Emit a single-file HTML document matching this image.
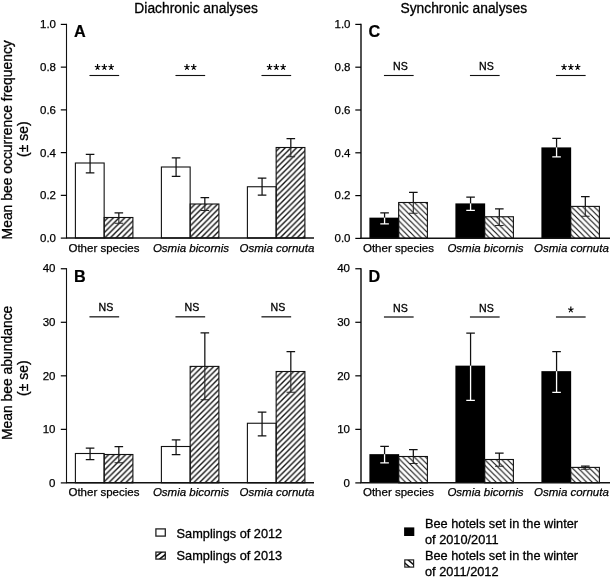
<!DOCTYPE html>
<html><head><meta charset="utf-8"><title>Figure</title>
<style>
html,body{margin:0;padding:0;background:#fff;}
body{width:610px;height:580px;overflow:hidden;font-family:"Liberation Sans",sans-serif;}
svg{display:block;will-change:transform;font-family:"Liberation Sans",sans-serif;fill:#000;}
text{stroke:#000;stroke-width:0.3px;}
.t{font-size:11.5px;stroke-width:0.25px;}
.h{font-size:13.8px;}
.y{font-size:13.9px;}
.L{font-size:16.2px;font-weight:bold;stroke-width:0.2px;}
.ns{font-size:10.6px;}
.st{font-size:16.5px;}
.lg{font-size:12.75px;}
</style></head><body>
<svg width="610" height="580" viewBox="0 0 610 580">
<defs>
<pattern id="hf" width="5.66" height="5.66" patternUnits="userSpaceOnUse" patternTransform="translate(2.9 0)">
<path d="M-1.42 1.42L1.42 -1.42M0 5.66L5.66 0M4.24 7.08L7.08 4.24" stroke="#111" stroke-width="1.35" fill="none"/>
</pattern>
<pattern id="hb" width="5.66" height="5.66" patternUnits="userSpaceOnUse" patternTransform="translate(2.5 0)">
<path d="M-1.42 4.24L1.42 7.08M0 0L5.66 5.66M4.24 -1.42L7.08 1.42" stroke="#111" stroke-width="1.15" fill="none"/>
</pattern>
</defs>
<rect width="610" height="580" fill="#fff"/>
<text x="196.1" y="12.8" text-anchor="middle" class="h">Diachronic analyses</text>
<text x="463.8" y="12.8" text-anchor="middle" class="h">Synchronic analyses</text>
<text transform="translate(12.1 139.8) rotate(-90)" text-anchor="middle" class="y">Mean bee occurrence frequency</text>
<text transform="translate(28 139.2) rotate(-90)" text-anchor="middle" class="y">(± se)</text>
<text transform="translate(12.1 372.9) rotate(-90)" text-anchor="middle" class="y">Mean bee abundance</text>
<text transform="translate(28 378.2) rotate(-90)" text-anchor="middle" class="y">(± se)</text>
<rect x="75.4" y="163" width="28.75" height="75" fill="#fff" stroke="#111" stroke-width="1.1"/>
<path d="M90.08 154.3V172.8M85.78 154.3H94.38M85.78 172.8H94.38" stroke="#111" stroke-width="1.25" fill="none"/>
<rect x="104.15" y="217.5" width="28.75" height="20.5" fill="url(#hf)" stroke="#111" stroke-width="1.1"/>
<path d="M118.83 212.8V217.5M114.53 212.8H123.12" stroke="#111" stroke-width="1.25" fill="none"/>
<path d="M118.83 217.5V223.3M114.53 223.3H123.12" stroke="#262626" stroke-width="1.1" fill="none"/>
<rect x="161.4" y="167" width="28.75" height="71" fill="#fff" stroke="#111" stroke-width="1.1"/>
<path d="M176.08 157.8V176.3M171.78 157.8H180.38M171.78 176.3H180.38" stroke="#111" stroke-width="1.25" fill="none"/>
<rect x="190.15" y="204" width="28.75" height="34" fill="url(#hf)" stroke="#111" stroke-width="1.1"/>
<path d="M204.83 197.55V204M200.53 197.55H209.13" stroke="#111" stroke-width="1.25" fill="none"/>
<path d="M204.83 204V210.55M200.53 210.55H209.13" stroke="#262626" stroke-width="1.1" fill="none"/>
<rect x="247.4" y="186.75" width="28.75" height="51.25" fill="#fff" stroke="#111" stroke-width="1.1"/>
<path d="M262.07 178V195M257.77 178H266.38M257.77 195H266.38" stroke="#111" stroke-width="1.25" fill="none"/>
<rect x="276.15" y="147.5" width="28.75" height="90.5" fill="url(#hf)" stroke="#111" stroke-width="1.1"/>
<path d="M290.82 138.5V147.5M286.52 138.5H295.12" stroke="#111" stroke-width="1.25" fill="none"/>
<path d="M290.82 147.5V156.7M286.52 156.7H295.12" stroke="#262626" stroke-width="1.1" fill="none"/>
<path d="M66.5 23.8V238" stroke="#111" stroke-width="1.1" fill="none"/>
<path d="M66 238H314" stroke="#111" stroke-width="1.5" fill="none"/>
<path d="M60.8 238.1H66.5" stroke="#000" stroke-width="1.2" fill="none"/>
<text x="56" y="242" text-anchor="end" class="t">0.0</text>
<path d="M60.8 195.36H66.5" stroke="#000" stroke-width="1.2" fill="none"/>
<text x="56" y="199.26" text-anchor="end" class="t">0.2</text>
<path d="M60.8 152.62H66.5" stroke="#000" stroke-width="1.2" fill="none"/>
<text x="56" y="156.52" text-anchor="end" class="t">0.4</text>
<path d="M60.8 109.88H66.5" stroke="#000" stroke-width="1.2" fill="none"/>
<text x="56" y="113.78" text-anchor="end" class="t">0.6</text>
<path d="M60.8 67.14H66.5" stroke="#000" stroke-width="1.2" fill="none"/>
<text x="56" y="71.04" text-anchor="end" class="t">0.8</text>
<path d="M60.8 24.4H66.5" stroke="#000" stroke-width="1.2" fill="none"/>
<text x="56" y="28.3" text-anchor="end" class="t">1.0</text>
<text x="73.95" y="36.9" class="L">A</text>
<text x="103.95" y="251.8" text-anchor="middle" class="t">Other species</text>
<text x="190.95" y="251.8" text-anchor="middle" class="t"><tspan font-style="italic">Osmia bicornis</tspan></text>
<text x="276.95" y="251.8" text-anchor="middle" class="t"><tspan font-style="italic">Osmia cornuta</tspan></text>
<path d="M89.45 75.5H119.15" stroke="#111" stroke-width="1.1" fill="none"/>
<path d="M97.55 67.25L97.55 64.11M97.55 67.25L100.26 66.28M97.55 67.25L99.23 69.79M97.55 67.25L95.87 69.79M97.55 67.25L94.84 66.28" stroke="#000" stroke-width="1.15" fill="none"/>
<path d="M104.35 67.25L104.35 64.11M104.35 67.25L107.06 66.28M104.35 67.25L106.03 69.79M104.35 67.25L102.67 69.79M104.35 67.25L101.64 66.28" stroke="#000" stroke-width="1.15" fill="none"/>
<path d="M111.15 67.25L111.15 64.11M111.15 67.25L113.86 66.28M111.15 67.25L112.83 69.79M111.15 67.25L109.47 69.79M111.15 67.25L108.44 66.28" stroke="#000" stroke-width="1.15" fill="none"/>
<path d="M175.45 75.5H205.15" stroke="#111" stroke-width="1.1" fill="none"/>
<path d="M186.95 67.25L186.95 64.11M186.95 67.25L189.66 66.28M186.95 67.25L188.63 69.79M186.95 67.25L185.27 69.79M186.95 67.25L184.24 66.28" stroke="#000" stroke-width="1.15" fill="none"/>
<path d="M193.75 67.25L193.75 64.11M193.75 67.25L196.46 66.28M193.75 67.25L195.43 69.79M193.75 67.25L192.07 69.79M193.75 67.25L191.04 66.28" stroke="#000" stroke-width="1.15" fill="none"/>
<path d="M261.45 75.5H291.15" stroke="#111" stroke-width="1.1" fill="none"/>
<path d="M269.55 67.25L269.55 64.11M269.55 67.25L272.26 66.28M269.55 67.25L271.23 69.79M269.55 67.25L267.87 69.79M269.55 67.25L266.84 66.28" stroke="#000" stroke-width="1.15" fill="none"/>
<path d="M276.35 67.25L276.35 64.11M276.35 67.25L279.06 66.28M276.35 67.25L278.03 69.79M276.35 67.25L274.67 69.79M276.35 67.25L273.64 66.28" stroke="#000" stroke-width="1.15" fill="none"/>
<path d="M283.15 67.25L283.15 64.11M283.15 67.25L285.86 66.28M283.15 67.25L284.83 69.79M283.15 67.25L281.47 69.79M283.15 67.25L280.44 66.28" stroke="#000" stroke-width="1.15" fill="none"/>
<rect x="369.4" y="217.65" width="29.75" height="20.65" fill="#000"/>
<path d="M384.57 212.8V217.75M380.27 212.8H388.88" stroke="#111" stroke-width="1.25" fill="none"/>
<path d="M384.57 217.75V223.8M380.27 223.8H388.88" stroke="#fff" stroke-width="1.3" fill="none"/>
<rect x="398.65" y="202.5" width="28.75" height="35.8" fill="url(#hb)" stroke="#111" stroke-width="1.1"/>
<path d="M413.32 192.3V202.5M409.02 192.3H417.62" stroke="#111" stroke-width="1.25" fill="none"/>
<path d="M413.32 202.5V213.3M409.02 213.3H417.62" stroke="#262626" stroke-width="1.1" fill="none"/>
<rect x="455.4" y="203.4" width="29.75" height="34.9" fill="#000"/>
<path d="M470.57 197.15V203.5M466.27 197.15H474.88" stroke="#111" stroke-width="1.25" fill="none"/>
<path d="M470.57 203.5V210.4M466.27 210.4H474.88" stroke="#fff" stroke-width="1.3" fill="none"/>
<rect x="484.65" y="216.75" width="28.75" height="21.55" fill="url(#hb)" stroke="#111" stroke-width="1.1"/>
<path d="M499.32 208.8V216.75M495.02 208.8H503.62" stroke="#111" stroke-width="1.25" fill="none"/>
<path d="M499.32 216.75V225.55M495.02 225.55H503.62" stroke="#262626" stroke-width="1.1" fill="none"/>
<rect x="541.4" y="147.4" width="29.75" height="90.9" fill="#000"/>
<path d="M556.57 138.3V147.5M552.27 138.3H560.87" stroke="#111" stroke-width="1.25" fill="none"/>
<path d="M556.57 147.5V156.8M552.27 156.8H560.87" stroke="#fff" stroke-width="1.3" fill="none"/>
<rect x="570.65" y="206.4" width="28.75" height="31.9" fill="url(#hb)" stroke="#111" stroke-width="1.1"/>
<path d="M585.32 196.7V206.4M581.02 196.7H589.62" stroke="#111" stroke-width="1.25" fill="none"/>
<path d="M585.32 206.4V216.2M581.02 216.2H589.62" stroke="#262626" stroke-width="1.1" fill="none"/>
<path d="M361 23.8V238.3" stroke="#111" stroke-width="1.45" fill="none"/>
<path d="M360.5 238.3H610" stroke="#111" stroke-width="1.5" fill="none"/>
<path d="M355.3 238.4H361" stroke="#000" stroke-width="1.2" fill="none"/>
<text x="350.5" y="242.2" text-anchor="end" class="t">0.0</text>
<path d="M355.3 195.6H361" stroke="#000" stroke-width="1.2" fill="none"/>
<text x="350.5" y="199.4" text-anchor="end" class="t">0.2</text>
<path d="M355.3 152.8H361" stroke="#000" stroke-width="1.2" fill="none"/>
<text x="350.5" y="156.6" text-anchor="end" class="t">0.4</text>
<path d="M355.3 110H361" stroke="#000" stroke-width="1.2" fill="none"/>
<text x="350.5" y="113.8" text-anchor="end" class="t">0.6</text>
<path d="M355.3 67.2H361" stroke="#000" stroke-width="1.2" fill="none"/>
<text x="350.5" y="71" text-anchor="end" class="t">0.8</text>
<path d="M355.3 24.4H361" stroke="#000" stroke-width="1.2" fill="none"/>
<text x="350.5" y="28.2" text-anchor="end" class="t">1.0</text>
<text x="368.45" y="36.9" class="L">C</text>
<text x="398.45" y="252" text-anchor="middle" class="t">Other species</text>
<text x="485.45" y="252" text-anchor="middle" class="t"><tspan font-style="italic">Osmia bicornis</tspan></text>
<text x="571.45" y="252" text-anchor="middle" class="t"><tspan font-style="italic">Osmia cornuta</tspan></text>
<path d="M383.95 75.5H413.65" stroke="#111" stroke-width="1.1" fill="none"/>
<text x="400.35" y="70.1" text-anchor="middle" class="ns">NS</text>
<path d="M469.95 75.5H499.65" stroke="#111" stroke-width="1.1" fill="none"/>
<text x="486.35" y="70.1" text-anchor="middle" class="ns">NS</text>
<path d="M555.95 75.5H585.65" stroke="#111" stroke-width="1.1" fill="none"/>
<path d="M564.05 67.25L564.05 64.11M564.05 67.25L566.76 66.28M564.05 67.25L565.73 69.79M564.05 67.25L562.37 69.79M564.05 67.25L561.34 66.28" stroke="#000" stroke-width="1.15" fill="none"/>
<path d="M570.85 67.25L570.85 64.11M570.85 67.25L573.56 66.28M570.85 67.25L572.53 69.79M570.85 67.25L569.17 69.79M570.85 67.25L568.14 66.28" stroke="#000" stroke-width="1.15" fill="none"/>
<path d="M577.65 67.25L577.65 64.11M577.65 67.25L580.36 66.28M577.65 67.25L579.33 69.79M577.65 67.25L575.97 69.79M577.65 67.25L574.94 66.28" stroke="#000" stroke-width="1.15" fill="none"/>
<rect x="75.4" y="453.5" width="28.75" height="29.3" fill="#fff" stroke="#111" stroke-width="1.1"/>
<path d="M90.08 448.05V459.55M85.78 448.05H94.38M85.78 459.55H94.38" stroke="#111" stroke-width="1.25" fill="none"/>
<rect x="104.15" y="454.5" width="28.75" height="28.3" fill="url(#hf)" stroke="#111" stroke-width="1.1"/>
<path d="M118.83 446.55V454.5M114.53 446.55H123.12" stroke="#111" stroke-width="1.25" fill="none"/>
<path d="M118.83 454.5V462.8M114.53 462.8H123.12" stroke="#262626" stroke-width="1.1" fill="none"/>
<rect x="161.4" y="446.5" width="28.75" height="36.3" fill="#fff" stroke="#111" stroke-width="1.1"/>
<path d="M176.08 439.8V454.55M171.78 439.8H180.38M171.78 454.55H180.38" stroke="#111" stroke-width="1.25" fill="none"/>
<rect x="190.15" y="366.4" width="28.75" height="116.4" fill="url(#hf)" stroke="#111" stroke-width="1.1"/>
<path d="M204.83 332.8V366.4M200.53 332.8H209.13" stroke="#111" stroke-width="1.25" fill="none"/>
<path d="M204.83 366.4V399.8M200.53 399.8H209.13" stroke="#262626" stroke-width="1.1" fill="none"/>
<rect x="247.4" y="423.25" width="28.75" height="59.55" fill="#fff" stroke="#111" stroke-width="1.1"/>
<path d="M262.07 412.05V435.8M257.77 412.05H266.38M257.77 435.8H266.38" stroke="#111" stroke-width="1.25" fill="none"/>
<rect x="276.15" y="371.5" width="28.75" height="111.3" fill="url(#hf)" stroke="#111" stroke-width="1.1"/>
<path d="M290.82 351.55V371.5M286.52 351.55H295.12" stroke="#111" stroke-width="1.25" fill="none"/>
<path d="M290.82 371.5V392.3M286.52 392.3H295.12" stroke="#262626" stroke-width="1.1" fill="none"/>
<path d="M66.5 268.15V482.8" stroke="#111" stroke-width="1.1" fill="none"/>
<path d="M66 482.8H314" stroke="#111" stroke-width="1.5" fill="none"/>
<path d="M60.8 482.9H66.5" stroke="#000" stroke-width="1.2" fill="none"/>
<text x="55.5" y="486.6" text-anchor="end" class="t">0</text>
<path d="M60.8 429.36H66.5" stroke="#000" stroke-width="1.2" fill="none"/>
<text x="55.5" y="433.06" text-anchor="end" class="t">10</text>
<path d="M60.8 375.83H66.5" stroke="#000" stroke-width="1.2" fill="none"/>
<text x="55.5" y="379.53" text-anchor="end" class="t">20</text>
<path d="M60.8 322.29H66.5" stroke="#000" stroke-width="1.2" fill="none"/>
<text x="55.5" y="325.99" text-anchor="end" class="t">30</text>
<path d="M60.8 268.75H66.5" stroke="#000" stroke-width="1.2" fill="none"/>
<text x="55.5" y="272.45" text-anchor="end" class="t">40</text>
<text x="73.95" y="282" class="L">B</text>
<text x="103.95" y="496.4" text-anchor="middle" class="t">Other species</text>
<text x="190.95" y="496.4" text-anchor="middle" class="t"><tspan font-style="italic">Osmia bicornis</tspan></text>
<text x="276.95" y="496.4" text-anchor="middle" class="t"><tspan font-style="italic">Osmia cornuta</tspan></text>
<path d="M89.45 316.8H119.15" stroke="#333" stroke-width="1.45" fill="none"/>
<text x="105.85" y="311.4" text-anchor="middle" class="ns">NS</text>
<path d="M175.45 316.8H205.15" stroke="#333" stroke-width="1.45" fill="none"/>
<text x="191.85" y="311.4" text-anchor="middle" class="ns">NS</text>
<path d="M261.45 316.8H291.15" stroke="#333" stroke-width="1.45" fill="none"/>
<text x="277.85" y="311.4" text-anchor="middle" class="ns">NS</text>
<rect x="369.4" y="454.15" width="29.75" height="28.65" fill="#000"/>
<path d="M384.57 446.3V454.25M380.27 446.3H388.88" stroke="#111" stroke-width="1.25" fill="none"/>
<path d="M384.57 454.25V462.8M380.27 462.8H388.88" stroke="#fff" stroke-width="1.3" fill="none"/>
<rect x="398.65" y="456.5" width="28.75" height="26.3" fill="url(#hb)" stroke="#111" stroke-width="1.1"/>
<path d="M413.32 449.55V456.5M409.02 449.55H417.62" stroke="#111" stroke-width="1.25" fill="none"/>
<path d="M413.32 456.5V463.55M409.02 463.55H417.62" stroke="#262626" stroke-width="1.1" fill="none"/>
<rect x="455.4" y="365.65" width="29.75" height="117.15" fill="#000"/>
<path d="M470.57 333.05V365.75M466.27 333.05H474.88" stroke="#111" stroke-width="1.25" fill="none"/>
<path d="M470.57 365.75V400.3M466.27 400.3H474.88" stroke="#fff" stroke-width="1.3" fill="none"/>
<rect x="484.65" y="459.5" width="28.75" height="23.3" fill="url(#hb)" stroke="#111" stroke-width="1.1"/>
<path d="M499.32 453.05V459.5M495.02 453.05H503.62" stroke="#111" stroke-width="1.25" fill="none"/>
<path d="M499.32 459.5V466.3M495.02 466.3H503.62" stroke="#262626" stroke-width="1.1" fill="none"/>
<rect x="541.4" y="371.15" width="29.75" height="111.65" fill="#000"/>
<path d="M556.57 351.55V371.25M552.27 351.55H560.87" stroke="#111" stroke-width="1.25" fill="none"/>
<path d="M556.57 371.25V392.3M552.27 392.3H560.87" stroke="#fff" stroke-width="1.3" fill="none"/>
<rect x="570.65" y="467.4" width="28.75" height="15.4" fill="url(#hb)" stroke="#111" stroke-width="1.1"/>
<path d="M585.32 466V467.4M581.02 466H589.62" stroke="#111" stroke-width="1.25" fill="none"/>
<path d="M585.32 467.4V469.2M581.02 469.2H589.62" stroke="#262626" stroke-width="1.1" fill="none"/>
<path d="M361 268.15V482.8" stroke="#111" stroke-width="1.45" fill="none"/>
<path d="M360.5 482.8H610" stroke="#111" stroke-width="1.5" fill="none"/>
<path d="M355.3 482.9H361" stroke="#000" stroke-width="1.2" fill="none"/>
<text x="350" y="486.6" text-anchor="end" class="t">0</text>
<path d="M355.3 429.36H361" stroke="#000" stroke-width="1.2" fill="none"/>
<text x="350" y="433.06" text-anchor="end" class="t">10</text>
<path d="M355.3 375.83H361" stroke="#000" stroke-width="1.2" fill="none"/>
<text x="350" y="379.53" text-anchor="end" class="t">20</text>
<path d="M355.3 322.29H361" stroke="#000" stroke-width="1.2" fill="none"/>
<text x="350" y="325.99" text-anchor="end" class="t">30</text>
<path d="M355.3 268.75H361" stroke="#000" stroke-width="1.2" fill="none"/>
<text x="350" y="272.45" text-anchor="end" class="t">40</text>
<text x="368.45" y="282" class="L">D</text>
<text x="398.45" y="496.4" text-anchor="middle" class="t">Other species</text>
<text x="485.45" y="496.4" text-anchor="middle" class="t"><tspan font-style="italic">Osmia bicornis</tspan></text>
<text x="571.45" y="496.4" text-anchor="middle" class="t"><tspan font-style="italic">Osmia cornuta</tspan></text>
<path d="M383.95 317H413.65" stroke="#333" stroke-width="1.45" fill="none"/>
<text x="400.35" y="311.6" text-anchor="middle" class="ns">NS</text>
<path d="M469.95 317H499.65" stroke="#333" stroke-width="1.45" fill="none"/>
<text x="486.35" y="311.6" text-anchor="middle" class="ns">NS</text>
<path d="M555.95 317H585.65" stroke="#333" stroke-width="1.45" fill="none"/>
<path d="M570.85 309.75L570.85 306.62M570.85 309.75L573.56 308.78M570.85 309.75L572.53 312.29M570.85 309.75L569.17 312.29M570.85 309.75L568.14 308.78" stroke="#000" stroke-width="1.15" fill="none"/>
<!-- legends -->
<clipPath id="c1"><rect x="155.9" y="552.1" width="9.4" height="7"/></clipPath>
<clipPath id="c2"><rect x="404.8" y="559.9" width="8.8" height="7.2"/></clipPath>
<rect x="155.9" y="528.9" width="9.4" height="7.2" fill="#fff" stroke="#222" stroke-width="1.3"/>
<text x="176.6" y="537.6" class="lg">Samplings of 2012</text>
<rect x="155.9" y="552.1" width="9.4" height="7" fill="#fff" stroke="#222" stroke-width="1.3"/>
<path d="M154.6 557.7L162.6 551.3M158.2 560.2L166.4 553.6" stroke="#111" stroke-width="1.6" fill="none" clip-path="url(#c1)"/>
<text x="176.6" y="560.3" class="lg">Samplings of 2013</text>
<rect x="404.1" y="527.4" width="10.2" height="8.6" fill="#000"/>
<text x="425.0" y="527.9" class="lg">Bee hotels set in the winter</text>
<text x="425.0" y="543.9" class="lg">of 2010/2011</text>
<rect x="404.8" y="559.9" width="8.8" height="7.2" fill="#fff" stroke="#222" stroke-width="1.2"/>
<path d="M403.6 562.0L411.0 568.4M406.6 558.6L415.0 565.9" stroke="#111" stroke-width="1.5" fill="none" clip-path="url(#c2)"/>
<text x="425.0" y="560.4" class="lg">Bee hotels set in the winter</text>
<text x="425.0" y="575.9" class="lg">of 2011/2012</text>
</svg>
</body></html>
